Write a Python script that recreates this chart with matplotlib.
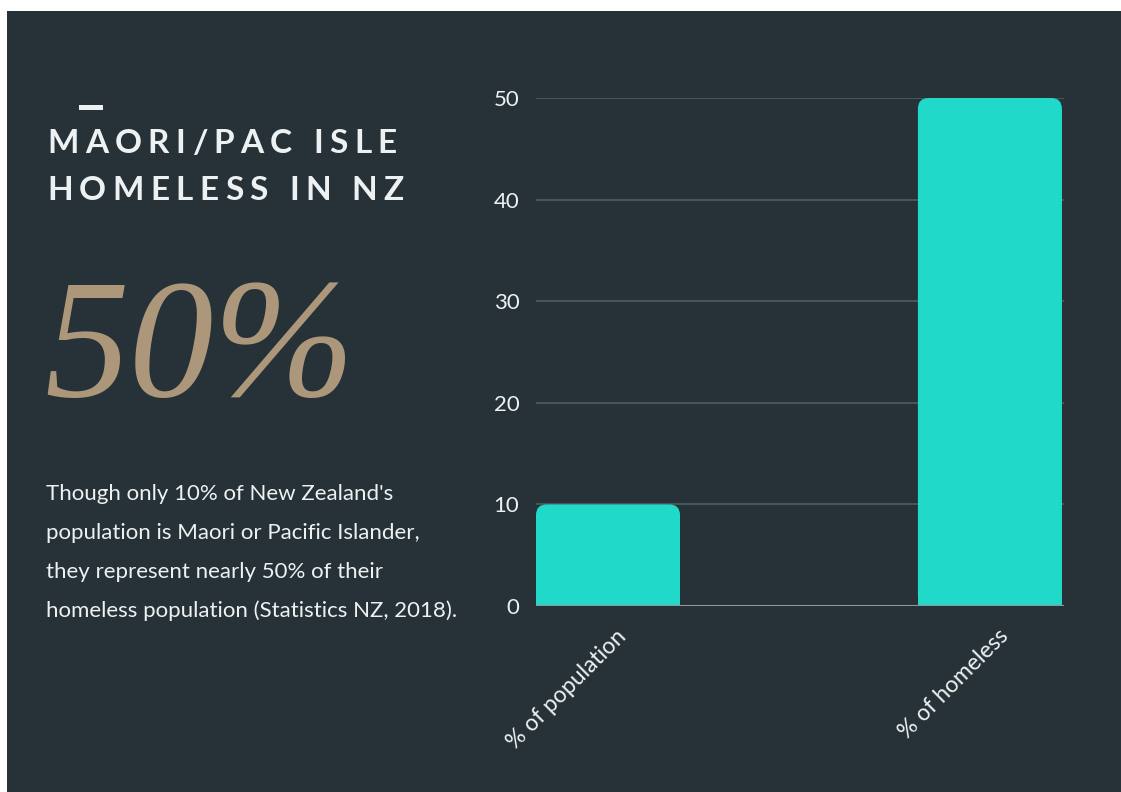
import matplotlib.pyplot as plt
import matplotlib.transforms as mtransforms
from matplotlib.patches import Rectangle, FancyBboxPatch

# chart data
categories = ["% of population", "% of homeless"]
values = [10, 50]
yticks = [0, 10, 20, 30, 40, 50]

title_lines = ["MAORI/PAC ISLE", "HOMELESS IN NZ"]
big_number = "50%"
body_lines = [
    "Though only 10% of New Zealand's",
    "population is Maori or Pacific Islander,",
    "they represent nearly 50% of their",
    "homeless population (Statistics NZ, 2018).",
]

W, H = 1121, 792
BG = "#263238"
BAR = "#21d9c8"
TXT = "#eef1f1"
TAN = "#ad977b"

fig = plt.figure(figsize=(W / 100, H / 100), dpi=100)
fig.patch.set_facecolor("white")
fig.patches.append(Rectangle((7 / W, 0), 1, (H - 11) / H, transform=fig.transFigure,
                             facecolor=BG, edgecolor="none", zorder=-5))
renderer = fig.canvas.get_renderer()


def text_width(s, **kw):
    t = fig.text(0, 0, s, **kw)
    w = t.get_window_extent(renderer).width
    t.remove()
    return w


def tracked_text(x, y, s, track, **kw):
    # letter-spaced text, one glyph at a time (x, y in pixels)
    for i, ch in enumerate(s):
        if ch == " ":
            continue
        pos = text_width(s[:i + 1], **kw) - text_width(ch, **kw) + i * track
        fig.text((x + pos) / W, 1 - y / H, ch, va="baseline", ha="left", **kw)


# left side text
fig.patches.append(Rectangle((79 / W, 1 - 110 / H), 24 / W, 5 / H, transform=fig.transFigure,
                             facecolor=TXT, edgecolor="none", zorder=1))
tkw = dict(family="Lato", weight="bold", fontsize=24, color=TXT)
plain = text_width(title_lines[0], **tkw)
track = (350 - plain) / (len(title_lines[0]) - 1)
for i, line in enumerate(title_lines):
    tracked_text(47, 153 + 47 * i, line, track, **tkw)

fig.text(44 / W, 1 - 396 / H, big_number, family="Liberation Serif", style="italic",
         fontsize=122, color=TAN, va="baseline", ha="left")
for i, line in enumerate(body_lines):
    fig.text(46 / W, 1 - (500 + 39 * i) / H, line, family="Lato", fontsize=16,
             color=TXT, va="baseline", ha="left")

# bar chart
ax = fig.add_axes([536 / W, (H - 606) / H, 528 / W, 508 / H])
ax.set_facecolor("none")
bw = 0.377
x = list(range(len(categories)))
ax.set_xlim(-0.1885, 1.194)
ax.set_ylim(0, 50)

# rounded top corners: square lower part + rounded box
r = 0.028  # corner radius in x data units
asp = (50 / 508) / (1.3825 / 528)  # y units per x unit for same pixel length
ry = r * asp
ax.bar(x, [v - ry for v in values], width=bw, color=BAR, zorder=3)
for xi, v in zip(x, values):
    ax.add_patch(FancyBboxPatch((xi - bw / 2 + r, ry), bw - 2 * r, v - 2 * ry,
                                boxstyle=f"round,pad={r}", mutation_aspect=asp,
                                facecolor=BAR, edgecolor="none", zorder=3))

ax.set_yticks(yticks)
ax.yaxis.grid(True, color="#4e5d63", linewidth=1.2, zorder=1)
ax.axhline(0, color="#8c979b", linewidth=1.5, zorder=4)
for s in ax.spines.values():
    s.set_visible(False)
ax.tick_params(axis="y", length=0, pad=12, labelsize=16, labelcolor=TXT)
ax.tick_params(axis="x", length=0, pad=6)
ax.set_xticks(x)
ax.set_xticklabels(categories, rotation=45, ha="right", va="top", rotation_mode="anchor",
                   fontsize=16.5, color=TXT, family="Lato")
shift = mtransforms.ScaledTranslation(8 / 100, -11 / 100, fig.dpi_scale_trans)
for lab in ax.get_xticklabels():
    lab.set_transform(lab.get_transform() + shift)
for lab in ax.get_yticklabels():
    lab.set_family("Lato")

fig.savefig("out.png", dpi=100, facecolor=fig.get_facecolor())
